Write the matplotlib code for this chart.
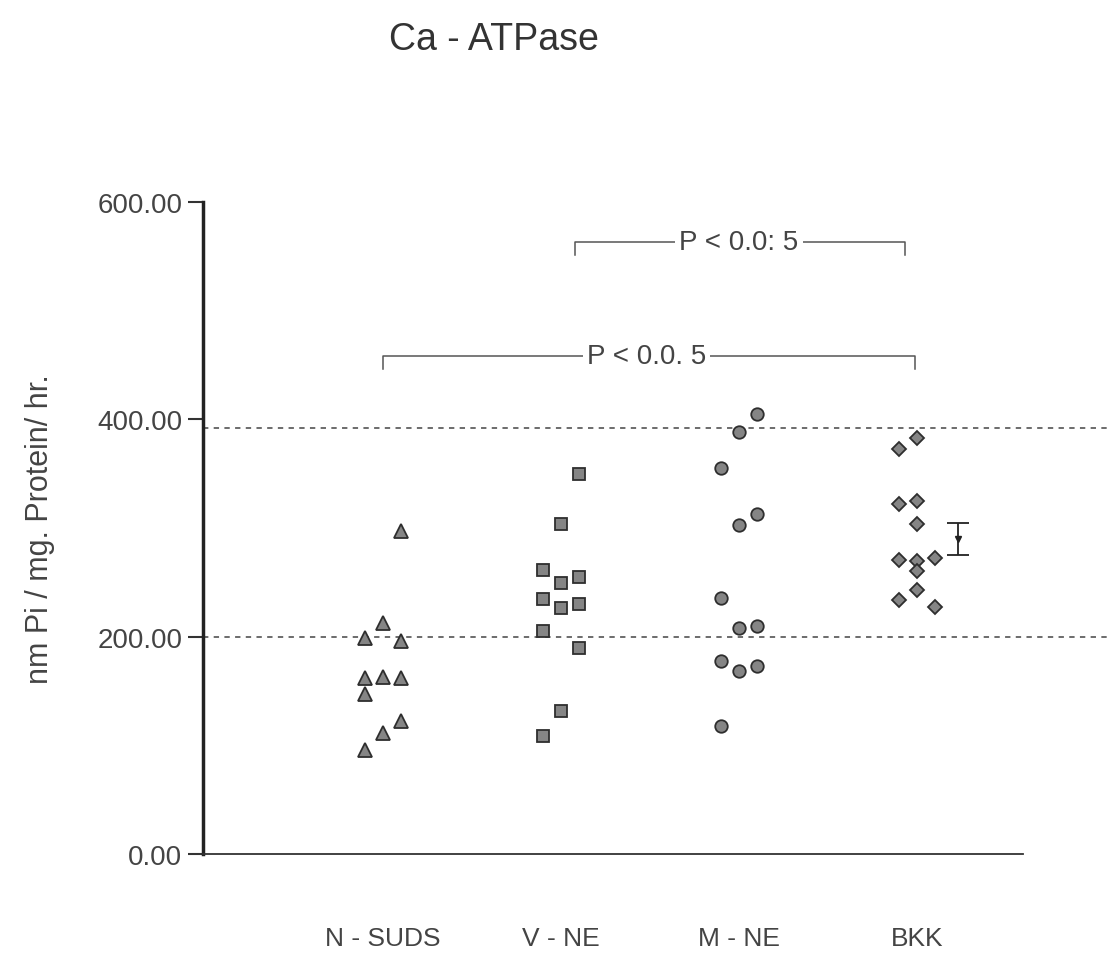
import matplotlib
matplotlib.use("Agg")
import matplotlib.pyplot as plt
import numpy as np

plt.rcParams['font.family'] = ['Liberation Sans', 'DejaVu Sans']

# ---- data ----
categories = ["N - SUDS", "V - NE", "M - NE", "BKK"]

nsuds_vals = [96, 111, 122, 147, 162, 163, 162, 199, 213, 196, 297]
nsuds_cols = [-1, 0, 1, -1, -1, 0, 1, -1, 0, 1, 1]

vne_vals = [350, 304, 261, 249, 255, 235, 226, 230, 205, 190, 132, 109]
vne_cols = [1, 0, -1, 0, 1, -1, 0, 1, -1, 1, 0, -1]

mne_vals = [405, 388, 355, 303, 313, 236, 208, 210, 178, 168, 173, 118]
mne_cols = [1, 0, -1, 0, 1, -1, 0, 1, -1, 0, 1, -1]

bkk_vals = [373, 383, 322, 325, 304, 271, 270, 272, 260, 243, 234, 227]
bkk_cols = [-1, 0, -1, 0, 0, -1, 0, 1, 0, 0, -1, 1]

ref_lines = [392, 200]
bkk_mean = 290
bkk_err = 15

yticks = [0, 200, 400, 600]
ytick_labels = ["0.00", "200.00", "400.00", "600.00"]

brackets = [  # (x_start, x_end, y, label)
    (1.08, 2.93, 563, "P < 0.0: 5"),
    (0.0, 2.99, 458, "P < 0.0. 5"),
]
bracket_label_x = [2.0, 1.48]

# ---- figure ----
W, H = 1108, 979
fig = plt.figure(figsize=(W / 100, H / 100), dpi=100)
ax = fig.add_axes([203 / W, 1 - 855 / H, 1 - 203 / W, (855 - 203) / H])

ink = '#2e2e2e'
face = '#858585'
col_step = 0.1
groups = [
    (nsuds_vals, nsuds_cols, '^', 9.5),
    (vne_vals, vne_cols, 's', 8.5),
    (mne_vals, mne_cols, 'o', 9),
    (bkk_vals, bkk_cols, 'D', 7.5),
]
for i, (vals, cols, mk, ms) in enumerate(groups):
    xs = i + col_step * np.array(cols)
    ax.plot(xs, vals, linestyle='none', marker=mk, ms=ms,
            mfc=face, mec=ink, mew=1.3, zorder=3)

for y in ref_lines:
    ax.axhline(y, color='#444444', lw=1.1, ls=(0, (3.5, 3.5)), zorder=1)

ax.errorbar([3.23], [bkk_mean], yerr=[bkk_err], fmt='v', ms=5,
            color='#222222', capsize=8, elinewidth=1.3, capthick=1.3, zorder=3)

for (x0, x1, y, label), lx in zip(brackets, bracket_label_x):
    ax.plot([x0, x0, x1, x1], [y - 12, y, y, y - 12], color='#555555',
            lw=1.1, zorder=2)
    ax.text(lx, y, label, ha='center', va='center', fontsize=20,
            color='#444444',
            bbox=dict(facecolor='white', edgecolor='none', pad=3), zorder=4)

ax.set_xlim((203 - 383) / 178, (1108 - 383) / 178)
ax.set_ylim(0, 600)

for s in ['top', 'right']:
    ax.spines[s].set_visible(False)
ax.spines['left'].set_linewidth(2.5)
ax.spines['left'].set_color('#222222')
ax.spines['bottom'].set_linewidth(1.3)
ax.spines['bottom'].set_color('#333333')
ax.spines['bottom'].set_bounds((203 - 383) / 178, (1023 - 383) / 178)

ax.set_yticks(yticks)
ax.set_yticklabels(ytick_labels)
ax.tick_params(axis='y', direction='out', length=11, width=1.5,
               labelsize=20, labelcolor='#444444', color='#333333', pad=4)
ax.set_xticks(range(len(categories)))
ax.set_xticklabels(categories)
ax.tick_params(axis='x', length=0, labelsize=19, labelcolor='#444444', pad=52)

ax.set_ylabel("nm Pi / mg. Protein/ hr.", fontsize=22, color='#444444',
              labelpad=30)

fig.text(494 / W, 1 - 40 / H, "Ca - ATPase", ha='center', va='center',
         fontsize=27, color='#333333')

fig.savefig("out.png", dpi=100, facecolor='white')
